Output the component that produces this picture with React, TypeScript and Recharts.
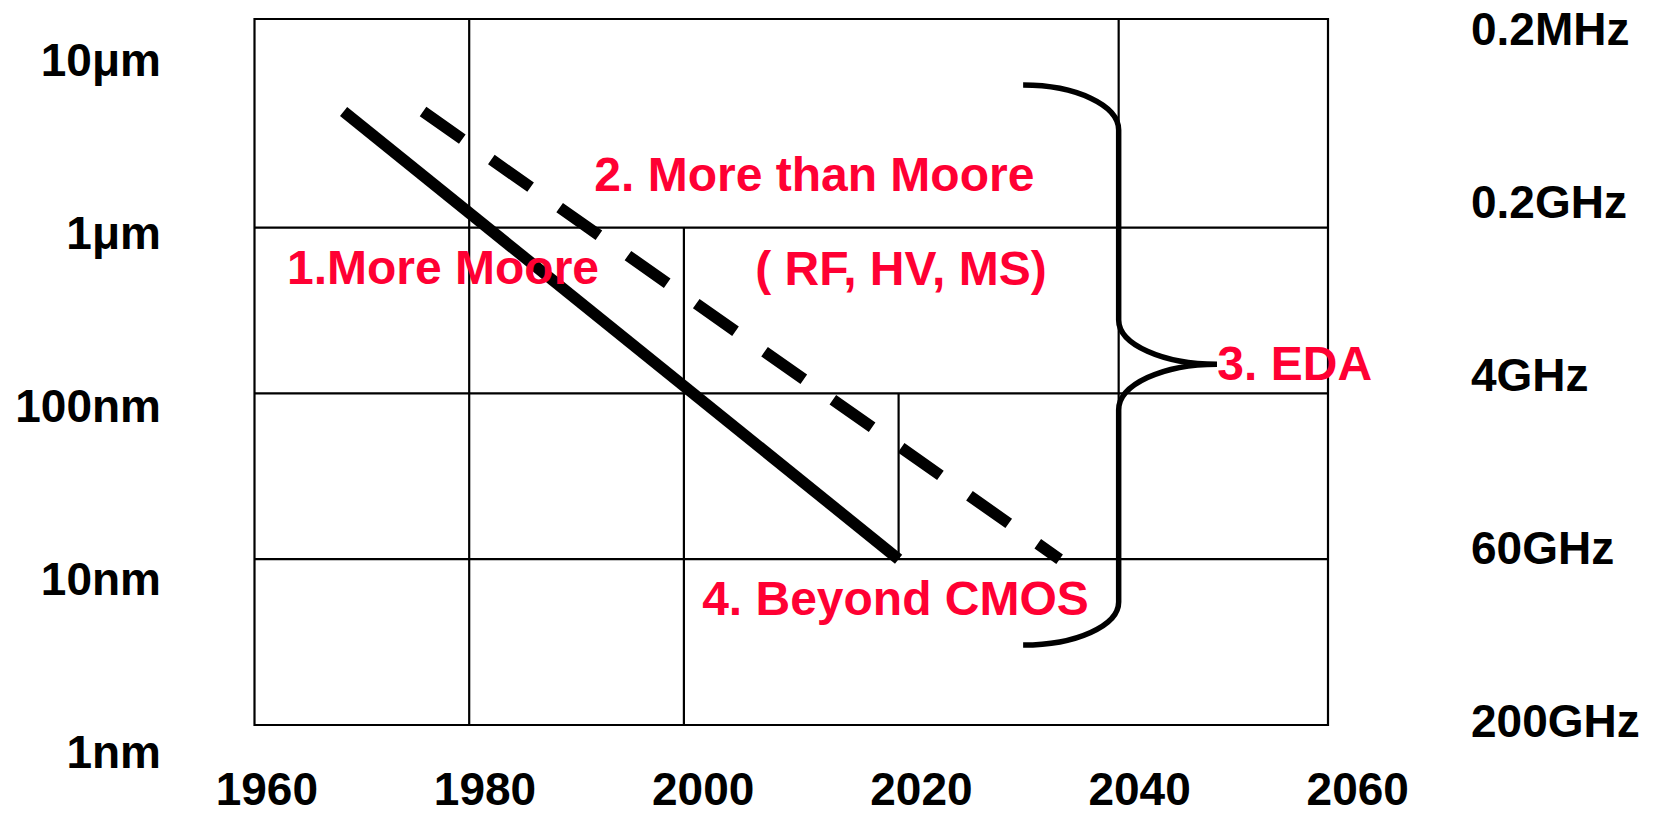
import React from 'react';
import {
  ComposedChart,
  Line,
  XAxis,
  YAxis,
  ReferenceLine,
  ReferenceArea,
  ReferenceDot,
} from 'recharts';

const FONT = '"Liberation Sans", Arial, Helvetica, sans-serif';
const RED = '#FF0033';
const INK = '#000000';

// x = year, y = log10(feature size / nm)
const yearTicks = [1960, 1980, 2000, 2020, 2040, 2060];
const labelSlots = [0, 1, 2, 3, 4];
const sizeLabels = ['1nm', '10nm', '100nm', '1μm', '10μm'];
const freqLabels = ['200GHz', '60GHz', '4GHz', '0.2GHz', '0.2MHz'];

// 1. More Moore (solid) and 2. More than Moore (dashed)
const moreMooreYears = [1968.3, 2020];
const moreMooreSize = [3.7, 1.0];
const moreThanMooreYears = [1975.7, 2035];
const moreThanMooreSize = [3.7, 1.0];

// table grid
const frameYears = [1960, 2060];
const frameSize = [0, 4.258];
const hGridSize = [1, 2, 3];
const vGridYears = [1980, 2000, 2020, 2040.5];
const vGridFrom = [0, 0, 1, 1];
const vGridTo = [4.258, 3, 2, 4.258];

// curly brace "}" : on-curve points at even indices, corners at odd indices
const braceYears = [2031.6, 2040.5, 2040.5, 2040.5, 2040.5, 2040.5, 2049.66, 2040.5, 2040.5, 2040.5, 2040.5, 2040.5, 2031.6];
const braceSize = [3.86, 3.86, 3.589, 3.016, 2.443, 2.176, 2.176, 2.176, 1.9, 1.321, 0.742, 0.4825, 0.4825];

// red annotations
const noteTexts = ['2. More than Moore', '1.More Moore', '( RF, HV, MS)', '3. EDA', '4. Beyond CMOS'];
const noteYears = [2012.15, 1977.56, 2020.22, 2056.9, 2019.71];
const noteSize = [3.323, 2.762, 2.759, 2.182, 0.766];

const zip = (xs: number[], ys: number[]) => xs.map((x, i) => ({ x, y: ys[i] }));
const moreMooreData = zip(moreMooreYears, moreMooreSize);
const moreThanMooreData = zip(moreThanMooreYears, moreThanMooreSize);
const braceData = zip(braceYears, braceSize);
const yearAnchorData = yearTicks.map((x) => ({ x, y: 2 }));

const K = 0.5523;
function braceCurve(context: any) {
  let pts: [number, number][] = [];
  return {
    areaStart() {},
    areaEnd() {},
    lineStart() {
      pts = [];
    },
    point(x: number, y: number) {
      pts.push([x, y]);
    },
    lineEnd() {
      if (!pts.length) return;
      context.moveTo(pts[0][0], pts[0][1]);
      for (let i = 1; i + 1 < pts.length; i += 2) {
        const p0 = pts[i - 1];
        const c = pts[i];
        const p1 = pts[i + 1];
        context.bezierCurveTo(
          p0[0] + K * (c[0] - p0[0]),
          p0[1] + K * (c[1] - p0[1]),
          p1[0] + K * (c[0] - p1[0]),
          p1[1] + K * (c[1] - p1[1]),
          p1[0],
          p1[1]
        );
      }
    },
  };
}

const tickStyle = { fontSize: 46, fontWeight: 'bold', fill: INK, fontFamily: FONT };

export default function App() {
  return (
    <div style={{ width: 1659, height: 815, background: '#fff' }}>
      <style>{'body{margin:0;overflow:hidden;background:#fff}'}</style>
      <ComposedChart width={1659} height={815} margin={{ top: 19, right: 0, bottom: 10, left: 0 }}>
        <XAxis
          xAxisId="main"
          dataKey="x"
          type="number"
          orientation="top"
          domain={[1960, 2060]}
          allowDataOverflow
          hide
          height={0}
        />
        <XAxis
          xAxisId="lab"
          dataKey="x"
          type="number"
          orientation="bottom"
          domain={[1958.87, 2057.27]}
          allowDataOverflow
          ticks={yearTicks}
          interval={0}
          axisLine={false}
          tickLine={false}
          tickSize={0}
          tickMargin={47}
          height={80}
          tick={tickStyle}
        />
        <YAxis
          yAxisId="main"
          type="number"
          orientation="right"
          domain={[0, 4.258]}
          allowDataOverflow
          hide
          width={0}
        />
        <YAxis
          yAxisId="left"
          orientation="left"
          type="number"
          domain={[0.156, 4.237]}
          allowDataOverflow
          ticks={labelSlots}
          interval={0}
          tickFormatter={(v: number) => sizeLabels[v]}
          axisLine={false}
          tickLine={false}
          tickSize={0}
          tickMargin={93.5}
          width={254.5}
          tick={tickStyle}
        />
        <YAxis
          yAxisId="right"
          orientation="right"
          type="number"
          domain={[-0.023, 4.058]}
          allowDataOverflow
          ticks={labelSlots}
          interval={0}
          tickFormatter={(v: number) => freqLabels[v]}
          axisLine={false}
          tickLine={false}
          tickSize={0}
          tickMargin={143}
          width={331}
          tick={tickStyle}
        />

        <ReferenceArea
          xAxisId="main"
          yAxisId="main"
          x1={frameYears[0]}
          x2={frameYears[1]}
          y1={frameSize[0]}
          y2={frameSize[1]}
          fill="none"
          fillOpacity={0}
          stroke={INK}
          strokeWidth={2.2}
          ifOverflow="visible"
        />
        {hGridSize.map((v) => (
          <ReferenceLine
            key={'h' + v}
            xAxisId="main"
            yAxisId="main"
            segment={[
              { x: frameYears[0], y: v },
              { x: frameYears[1], y: v },
            ]}
            stroke={INK}
            strokeWidth={2.2}
          />
        ))}
        {vGridYears.map((yr, i) => (
          <ReferenceLine
            key={'v' + yr}
            xAxisId="main"
            yAxisId="main"
            segment={[
              { x: yr, y: vGridFrom[i] },
              { x: yr, y: vGridTo[i] },
            ]}
            stroke={INK}
            strokeWidth={2.2}
          />
        ))}

        {/* invisible anchor series that binds the year-label axis */}
        <Line
          xAxisId="lab"
          yAxisId="main"
          data={yearAnchorData}
          dataKey="y"
          stroke="none"
          strokeOpacity={0}
          dot={false}
          activeDot={false}
          legendType="none"
          isAnimationActive={false}
        />

        <Line
          xAxisId="main"
          yAxisId="main"
          data={moreMooreData}
          dataKey="y"
          type="linear"
          stroke={INK}
          strokeWidth={11.5}
          dot={false}
          activeDot={false}
          isAnimationActive={false}
        />
        <Line
          xAxisId="main"
          yAxisId="main"
          data={moreThanMooreData}
          dataKey="y"
          type="linear"
          stroke={INK}
          strokeWidth={11.5}
          strokeDasharray="48 35.5"
          dot={false}
          activeDot={false}
          isAnimationActive={false}
        />
        <Line
          xAxisId="main"
          yAxisId="main"
          data={braceData}
          dataKey="y"
          type={braceCurve as any}
          stroke={INK}
          strokeWidth={5.5}
          fill="none"
          dot={false}
          activeDot={false}
          isAnimationActive={false}
        />

        {noteTexts.map((t, i) => (
          <ReferenceDot
            key={t}
            xAxisId="main"
            yAxisId="main"
            x={noteYears[i]}
            y={noteSize[i]}
            r={0}
            fill="none"
            stroke="none"
            ifOverflow="visible"
            label={{
              value: t,
              position: 'center',
              fill: RED,
              fontSize: 48,
              fontWeight: 'bold',
              fontFamily: FONT,
            }}
          />
        ))}
      </ComposedChart>
    </div>
  );
}
